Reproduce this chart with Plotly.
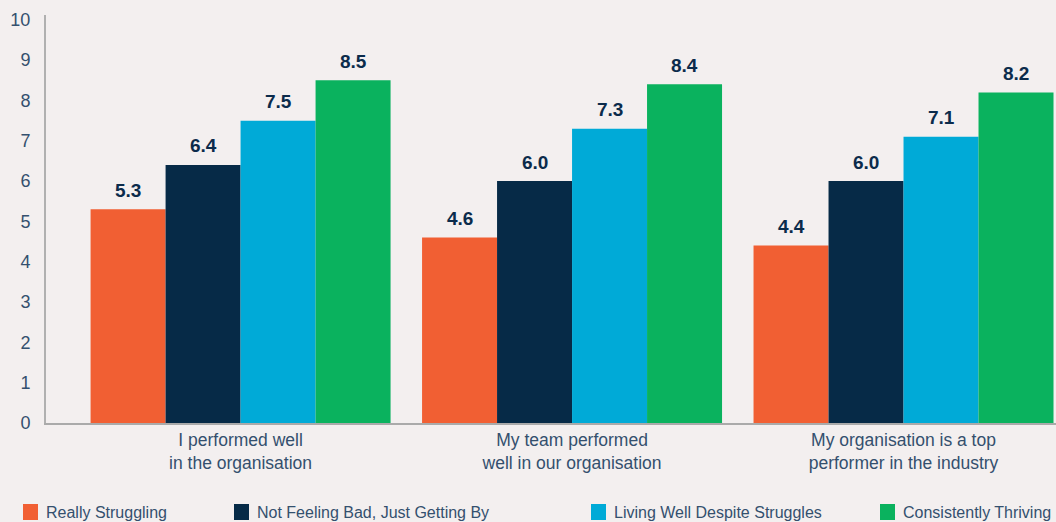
import plotly.graph_objects as go

categories = ["I performed well<br>in the organisation",
              "My team performed<br>well in our organisation",
              "My organisation is a top<br>performer in the industry"]
series_names = ["Really Struggling", "Not Feeling Bad, Just Getting By",
                "Living Well Despite Struggles", "Consistently Thriving"]
really_struggling = [5.3, 4.6, 4.4]
not_feeling_bad = [6.4, 6.0, 6.0]
living_well = [7.5, 7.3, 7.1]
consistently_thriving = [8.5, 8.4, 8.2]
y_ticks = [0, 1, 2, 3, 4, 5, 6, 7, 8, 9, 10]

colors = ["#f15f33", "#062a47", "#00aad7", "#0ab25e"]
values = [really_struggling, not_feeling_bad, living_well, consistently_thriving]

FONT = "Liberation Sans, Arial, sans-serif"
TXT = "#34506e"
BG = "#f3efef"

W, H = 1056, 522
ML, MR, MT, MB = 46, 0, 15, 99
PW, PH = W - ML - MR, H - MT - MB
X_RANGE = [-0.587, 2.46]
BARGAP = 0.095
n = len(series_names)
cat_px = PW / (X_RANGE[1] - X_RANGE[0])
bar_px = cat_px * (1 - BARGAP) / n

fig = go.Figure()
annotations = []
for i, (name, vals, col) in enumerate(zip(series_names, values, colors)):
    fig.add_trace(go.Bar(
        x=categories, y=vals, name=name,
        marker=dict(color=col, line=dict(width=0)),
        showlegend=False,
    ))
    for c, v in zip(categories, vals):
        annotations.append(dict(
            x=c, y=v, xref="x", yref="y", text=f"<b>{v:.1f}</b>", showarrow=False,
            xshift=(i - (n - 1) / 2) * bar_px, yshift=19, yanchor="middle",
            font=dict(family=FONT, size=19, color="#0b2b4b"),
        ))

# custom legend (squares + labels) placed below the axis
legend_px = [23, 234, 591, 880]
def px_to_paper_x(px):
    return (px - ML) / PW
def px_to_paper_y(py):
    return (H - MB - py) / PH

shapes = []
for name, col, lx in zip(series_names, colors, legend_px):
    shapes.append(dict(type="rect", xref="paper", yref="paper",
                       x0=px_to_paper_x(lx), x1=px_to_paper_x(lx + 15),
                       y0=px_to_paper_y(520), y1=px_to_paper_y(504),
                       fillcolor=col, line=dict(width=0)))
    annotations.append(dict(x=px_to_paper_x(lx + 21), y=px_to_paper_y(512),
                            xref="paper", yref="paper", xanchor="left", yanchor="middle",
                            text=name, showarrow=False,
                            font=dict(family=FONT, size=16, color=TXT)))

fig.update_layout(
    width=W, height=H,
    paper_bgcolor=BG, plot_bgcolor=BG,
    margin=dict(l=ML, r=MR, t=MT, b=MB, autoexpand=False),
    barmode="group", bargap=BARGAP, bargroupgap=0,
    font=dict(family=FONT, color=TXT, size=17),
    showlegend=False,
    annotations=annotations, shapes=shapes,
)
fig.update_xaxes(range=X_RANGE, showline=True, linecolor="#aaaaaa", linewidth=2,
                 showgrid=False, ticks="", tickfont=dict(family=FONT, size=17.5, color=TXT),
                 zeroline=False)
fig.update_yaxes(range=[0, 10.12], tickvals=y_ticks, showline=True, linecolor="#b0b0b0",
                 linewidth=2, showgrid=False, zeroline=False, ticks="",
                 tickfont=dict(family=FONT, size=18, color=TXT), ticklabelstandoff=10)

fig.write_html("out.html")
